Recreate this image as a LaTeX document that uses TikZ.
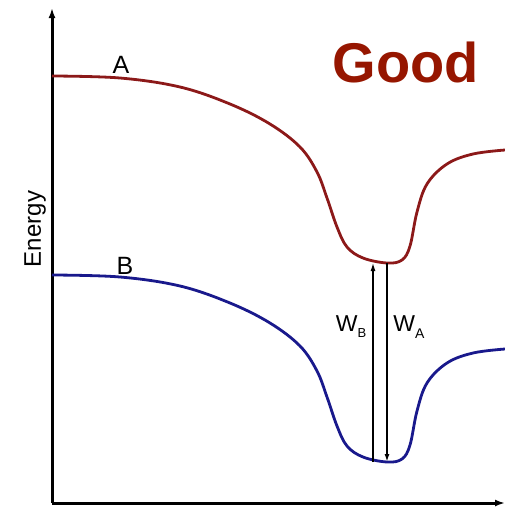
\documentclass[tikz,border=0pt]{standalone}
\usepackage{fontspec}
\setmainfont{Liberation Sans}
\usetikzlibrary{arrows.meta}
\definecolor{cred}{RGB}{140,25,25}
\definecolor{cblue}{RGB}{25,25,140}
\definecolor{cgood}{RGB}{150,22,0}
\tikzset{well/.style={x=1pt,y=-1pt},
  curve/.style={line width=2.8pt,line join=round},
  axis/.style={line width=3pt,-{Latex[length=10pt,width=7pt]}},
  lbl/.style={inner sep=0pt,font=\fontsize{25}{26}\selectfont}}

\begin{document}
\begin{tikzpicture}[well]
    \useasboundingbox (0,0) rectangle (505,507);
    \def\wellpath{(52,76) (120,78) (180,87) (230,104) (270,124) (300,147)
      (317,172) (327,198) (337,227) (347,247) (363,258) (387,263) (402,260) (410,246)
      (417,212) (427,184) (447,164) (473,154) (505,150)}
    \coordinate (O) at (52,503);
    \coordinate (ytop) at (52,8);
    \coordinate (xend) at (505,503);
    \draw[axis] (O) -- (ytop);
    \draw[axis] (O) -- (xend);
    \draw[curve,cred] plot[smooth,tension=0.6] coordinates {\wellpath};
    \begin{scope}[yshift=-199pt]
      \draw[curve,cblue] plot[smooth,tension=0.6] coordinates {\wellpath};
    \end{scope}
    \coordinate (topB) at (373,263);
    \coordinate (botB) at (373,462);
    \coordinate (topA) at (387,263);
    \coordinate (botA) at (387,462);
    \draw[line width=1.2pt,-{Latex[length=8pt,width=5pt]}] (botB) -- (topB);
    \draw[line width=2pt,-{Latex[length=8pt,width=5pt]}] (topA) -- (botA);
    \node[lbl,anchor=base] (labA) at (121,73) {A};
    \node[lbl,anchor=base] (labB) at (125,274) {B};
    \node[lbl,rotate=90,anchor=base,font=\fontsize{24}{25}\selectfont] (energy) at (41,229) {Energy};
    \node[lbl,anchor=base,font=\fontsize{23}{24}\selectfont] (wb) at (351,331) {W\raisebox{-6pt}{\fontsize{13}{13}\selectfont B}};
    \node[lbl,anchor=base,font=\fontsize{23}{24}\selectfont] (wa) at (409,331) {W\raisebox{-7pt}{\fontsize{14}{14}\selectfont A}};
    \node[lbl,anchor=base,text=cgood,font=\fontsize{56}{60}\selectfont\bfseries] (good) at (406,82) {Good};
\end{tikzpicture}
\end{document}
